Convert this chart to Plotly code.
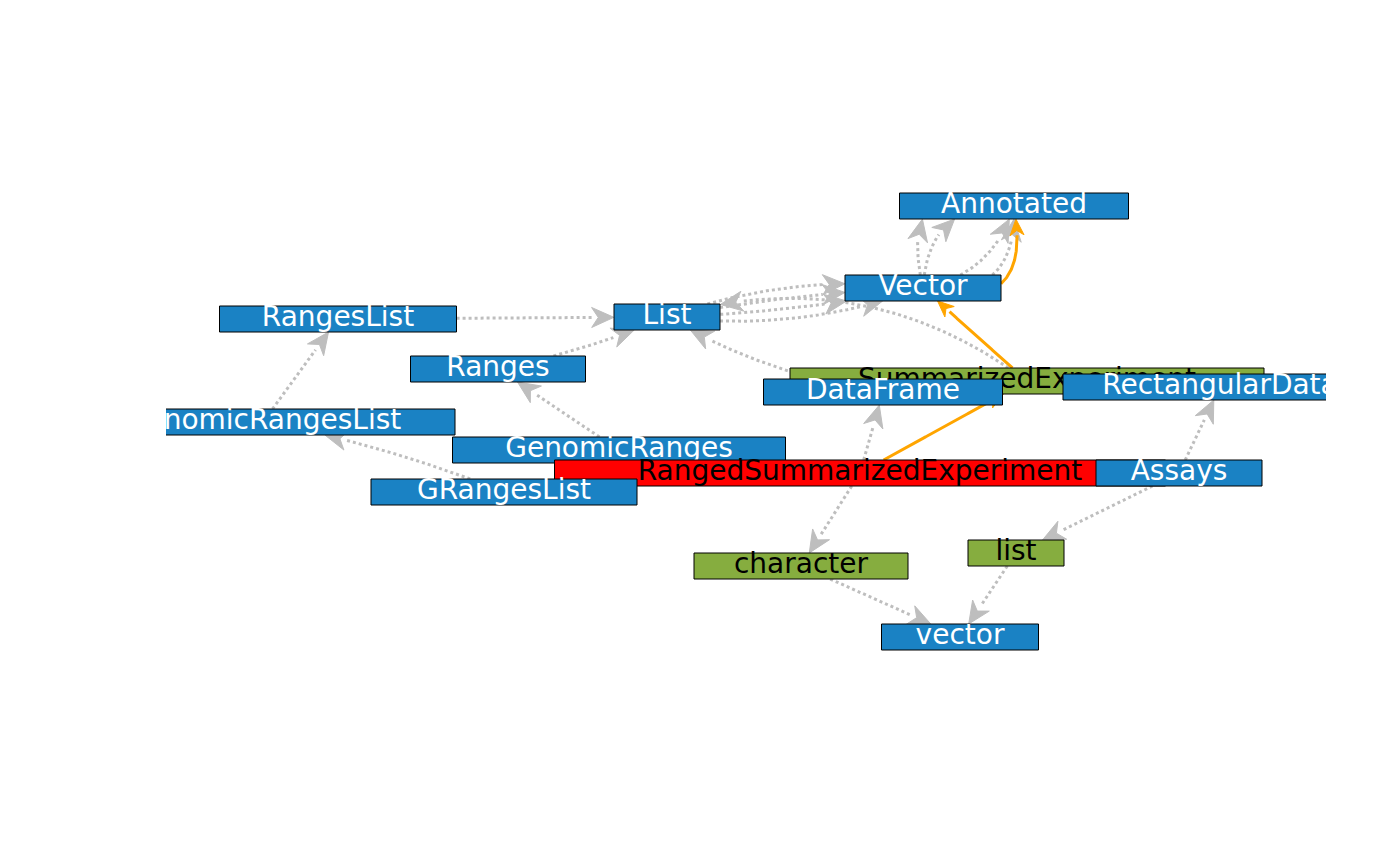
import plotly.graph_objects as go
import numpy as np

# node layout (pixel-like layout coordinates), box sizes and kind
names = ["Annotated", "Vector", "List", "RangesList", "Ranges", "SummarizedExperiment",
         "DataFrame", "RectangularData", "GenomicRangesList", "GenomicRanges",
         "RangedSummarizedExperiment", "Assays", "GRangesList", "character", "list", "vector"]
node_x = [1006, 915, 659, 330, 490, 1019, 875, 1212, 255, 611, 852, 1171, 496, 793, 1008, 952]
node_y = [198, 280, 309, 311, 361, 373, 384, 379, 414, 442, 465, 465, 484, 558, 545, 629]
node_w = [229, 156, 106, 237, 175, 474, 239, 314, 384, 333, 611, 166, 266, 214, 96, 157]
kind = ["S4", "S4", "S4", "S4", "S4", "base", "S4", "S4", "S4", "S4", "focus",
        "S4", "S4", "base", "base", "S4"]

# edges: (from, to, highlighted, curvature)
edges = [
    ("RangesList", "List", False, 0.0),
    ("Ranges", "List", False, 0.05),
    ("List", "Vector", False, -0.12), ("List", "Vector", False, -0.04),
    ("List", "Vector", False, 0.04), ("List", "Vector", False, 0.12),
    ("Vector", "Annotated", False, -0.9), ("Vector", "Annotated", False, -0.5),
    ("Vector", "Annotated", False, 0.3), ("Vector", "Annotated", False, 0.6),
    ("SummarizedExperiment", "List", False, 0.25),
    ("DataFrame", "List", False, -0.1),
    ("GenomicRangesList", "RangesList", False, 0.0),
    ("GRangesList", "GenomicRangesList", False, 0.05),
    ("GenomicRanges", "Ranges", False, 0.0),
    ("RangedSummarizedExperiment", "DataFrame", False, 0.0),
    ("RangedSummarizedExperiment", "character", False, 0.0),
    ("Assays", "list", False, 0.0),
    ("list", "vector", False, 0.0),
    ("character", "vector", False, 0.0),
    ("Assays", "RectangularData", False, 0.0),
    ("RangedSummarizedExperiment", "SummarizedExperiment", True, 0.0),
    ("SummarizedExperiment", "Vector", True, 0.0),
    ("Vector", "Annotated", True, 0.8),
]

fill = {"S4": "#1a82c4", "base": "#86ad3f", "focus": "#ff0000"}
txtcol = {"S4": "white", "base": "black", "focus": "black"}
H = 26
idx = {n: i for i, n in enumerate(names)}

fig = go.Figure()


def inside(p, i):
    return abs(p[0] - node_x[i]) <= node_w[i] / 2 and abs(p[1] - node_y[i]) <= H / 2


for a, b, hi, c in edges:
    i, j = idx[a], idx[b]
    p0 = np.array([node_x[i], node_y[i]], float)
    p1 = np.array([node_x[j], node_y[j]], float)
    d = p1 - p0
    n = np.array([-d[1], d[0]])
    ctrl = (p0 + p1) / 2 + c * n
    t = np.linspace(0, 1, 800)
    pts = ((1 - t) ** 2)[:, None] * p0 + (2 * (1 - t) * t)[:, None] * ctrl + (t ** 2)[:, None] * p1
    keep = [k for k, p in enumerate(pts) if not inside(p, i) and not inside(p, j)]
    if len(keep) < 3:
        continue
    seg = pts[keep[0]:keep[-1] + 1]
    col = "orange" if hi else "#bebebe"
    alen, ahw = (16, 7) if hi else (22, 10)
    tip = seg[-1]
    # find base point of the arrowhead along the curve
    dist = np.linalg.norm(seg - tip, axis=1)
    kb = [k for k in range(len(seg)) if dist[k] >= alen]
    kb = kb[-1] if kb else 0
    base = seg[kb]
    line = seg[:kb + 1]
    fig.add_trace(go.Scatter(x=line[:, 0], y=line[:, 1], mode="lines", hoverinfo="skip",
                             line=dict(color=col, width=3, dash="solid" if hi else "dot"),
                             showlegend=False))
    u = (tip - base) / max(np.linalg.norm(tip - base), 1e-6)
    v = np.array([-u[1], u[0]])
    notch = base + u * alen * 0.3
    tri = np.array([tip, base + v * ahw, notch, base - v * ahw, tip])
    fig.add_trace(go.Scatter(x=tri[:, 0], y=tri[:, 1], mode="lines", fill="toself",
                             fillcolor=col, line=dict(color=col, width=1),
                             hoverinfo="skip", showlegend=False))

for i, nm in enumerate(names):
    x0, x1 = node_x[i] - node_w[i] / 2, node_x[i] + node_w[i] / 2
    y0, y1 = node_y[i] - H / 2, node_y[i] + H / 2
    fig.add_trace(go.Scatter(x=[x0, x1, x1, x0, x0], y=[y0, y0, y1, y1, y0], mode="lines",
                             fill="toself", fillcolor=fill[kind[i]],
                             line=dict(color="black", width=1), hoverinfo="skip",
                             showlegend=False))
    fig.add_trace(go.Scatter(x=[node_x[i]], y=[node_y[i]], mode="text", text=[nm],
                             hoverinfo="skip", showlegend=False, cliponaxis=True,
                             textfont=dict(family="DejaVu Sans", size=28,
                                           color=txtcol[kind[i]])))

fig.update_layout(
    width=1400, height=866, paper_bgcolor="white", plot_bgcolor="white",
    margin=dict(l=158, r=82, t=0, b=0, pad=0, autoexpand=False),
    xaxis=dict(range=[158, 1318], visible=False),
    yaxis=dict(range=[866, 0], visible=False),
)
fig.write_html("out.html")
